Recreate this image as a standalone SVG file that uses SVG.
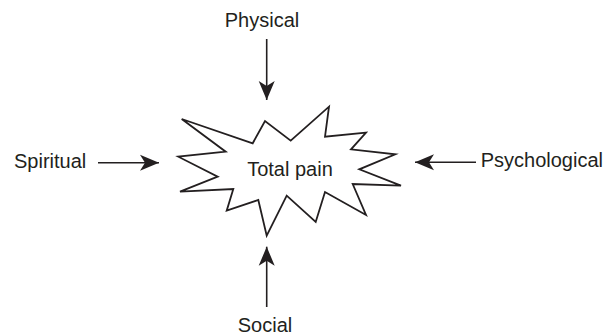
<svg xmlns="http://www.w3.org/2000/svg" width="613" height="336" viewBox="0 0 613 336">
<style>
text{font-family:"Liberation Sans",Arial,sans-serif;font-size:20px;fill:#231f20}
.c{stroke:#231f20;stroke-width:1.6;fill:none}
.star{fill:#fff;stroke:#231f20;stroke-width:1.8;stroke-linejoin:miter}
</style>
<defs>
<marker id="ah" markerUnits="userSpaceOnUse" markerWidth="24" markerHeight="20" viewBox="-20 -10 22 20" refX="0" refY="0" orient="auto">
<path d="M0,0 L-19,-8 L-14,0 L-19,8 Z" fill="#231f20"/>
</marker>
</defs>
<rect width="613" height="336" fill="#fff"/>
<g id="total-pain">
<polygon class="star" points="181.7,119 252.7,143.3 265,121 290.7,140.7 329,106.7 325,136.7 366,132.7 351,149.3 395.3,154.3 359.3,169.3 401,185.7 352.7,184 366,215 325,192 315.7,222 286.7,195.7 266.7,235.7 258.3,200 226.7,210.7 233.3,189 180,191.7 217.7,176.7 178.3,156.7 225.7,151.7"/>
<text x="290" y="176" text-anchor="middle">Total pain</text>
</g>
<g id="physical"><text x="262" y="27" text-anchor="middle">Physical</text></g>
<g id="spiritual"><text x="14" y="168">Spiritual</text></g>
<g id="psychological"><text x="603" y="167" text-anchor="end">Psychological</text></g>
<g id="social"><text x="265" y="332" text-anchor="middle">Social</text></g>
<g id="connectors">
<line class="c" x1="266.7" y1="39" x2="266.7" y2="100" marker-end="url(#ah)"/>
<line class="c" x1="98" y1="162.7" x2="159" y2="162.7" marker-end="url(#ah)"/>
<line class="c" x1="476" y1="162.3" x2="415" y2="162.3" marker-end="url(#ah)"/>
<line class="c" x1="266.7" y1="307" x2="266.7" y2="246.7" marker-end="url(#ah)"/>
</g>
</svg>
